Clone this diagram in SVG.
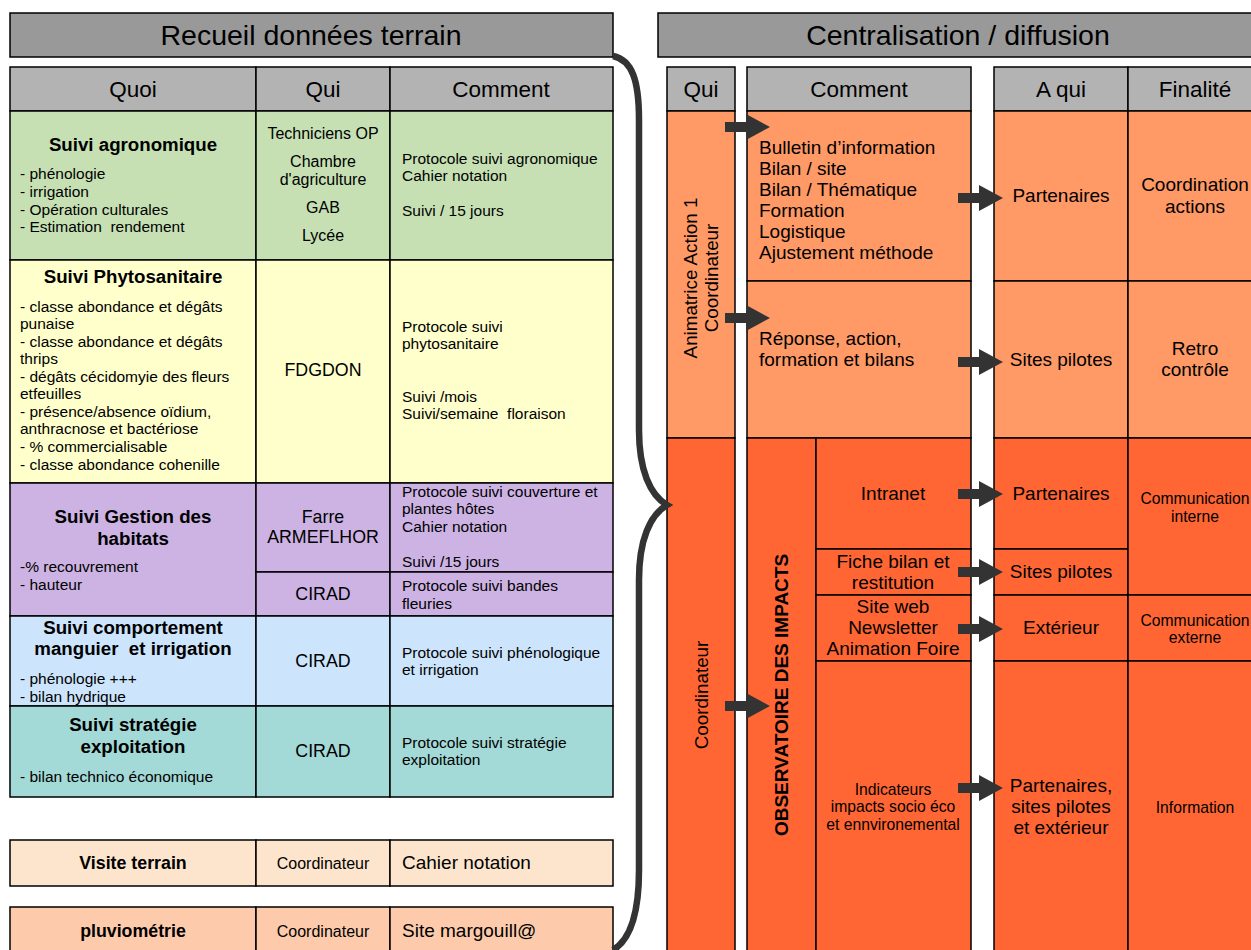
<svg xmlns="http://www.w3.org/2000/svg" xmlns:xlink="http://www.w3.org/1999/xlink" width="1251" height="950" viewBox="0 0 1251 950">
<style>
text{font-family:"Liberation Sans",Arial,sans-serif;fill:#000}
.b{stroke:#000;stroke-width:1.5}
.title{fill:#999999}
.hdr{fill:#b3b3b3}
.t26{font-size:28.5px;text-anchor:middle}
.t20{font-size:22.5px;text-anchor:middle}
.h{font-size:18.7px;font-weight:bold;text-anchor:middle}
.s{font-size:15.5px}
.sc{font-size:15.7px;text-anchor:middle}
.q{font-size:16px;text-anchor:middle}
.m{font-size:17.8px;text-anchor:middle}
.v{font-size:18.8px}
.r{font-size:19px}
.rc{font-size:19px;text-anchor:middle}
.lo{fill:#ff9966}
.do{fill:#ff6633}
</style>
<defs>
<path id="arr" d="M0,-5 H21 V-13 L45,0 L21,13 V5 H0 Z" fill="#333333"/>
</defs>
<rect width="1251" height="950" fill="#ffffff"/>

<g id="left-title">
<rect class="b title" x="10" y="13" width="603" height="44"/>
<text class="t26" x="311" y="45">Recueil données terrain</text>
</g>
<g id="left-header">
<rect class="b hdr" x="10" y="67" width="246" height="44"/>
<rect class="b hdr" x="256" y="67" width="134" height="44"/>
<rect class="b hdr" x="390" y="67" width="223" height="44"/>
<text class="t20" x="133" y="97">Quoi</text>
<text class="t20" x="323" y="97">Qui</text>
<text class="t20" x="501" y="97">Comment</text>
</g>

<g id="row-agronomique">
<rect class="b" fill="#c6e0b4" x="10" y="111" width="246" height="149"/>
<rect class="b" fill="#c6e0b4" x="256" y="111" width="134" height="149"/>
<rect class="b" fill="#c6e0b4" x="390" y="111" width="223" height="149"/>
<text class="h" x="133" y="151">Suivi agronomique</text>
<text class="s" x="20" y="179">- phénologie</text>
<text class="s" x="20" y="197">- irrigation</text>
<text class="s" x="20" y="215">- Opération culturales</text>
<text class="s" x="20" y="232" xml:space="preserve">- Estimation  rendement</text>
<text class="q" x="323" y="139">Techniciens OP</text>
<text class="q" x="323" y="167">Chambre</text>
<text class="q" x="323" y="185">d'agriculture</text>
<text class="q" x="323" y="213">GAB</text>
<text class="q" x="323" y="241">Lycée</text>
<text class="s" x="402" y="164">Protocole suivi agronomique</text>
<text class="s" x="402" y="181">Cahier notation</text>
<text class="s" x="402" y="216">Suivi / 15 jours</text>
</g>

<g id="row-phyto">
<rect class="b" fill="#ffffcc" x="10" y="260" width="246" height="223"/>
<rect class="b" fill="#ffffcc" x="256" y="260" width="134" height="223"/>
<rect class="b" fill="#ffffcc" x="390" y="260" width="223" height="223"/>
<text class="h" x="133" y="283">Suivi Phytosanitaire</text>
<text class="s" x="20" y="312">- classe abondance et dégâts</text>
<text class="s" x="20" y="329">punaise</text>
<text class="s" x="20" y="347">- classe abondance et dégâts</text>
<text class="s" x="20" y="364">thrips</text>
<text class="s" x="20" y="382">- dégâts cécidomyie des fleurs</text>
<text class="s" x="20" y="399">etfeuilles</text>
<text class="s" x="20" y="417">- présence/absence oïdium,</text>
<text class="s" x="20" y="434">anthracnose et bactériose</text>
<text class="s" x="20" y="452">- % commercialisable</text>
<text class="s" x="20" y="470">- classe abondance cohenille</text>
<text class="m" x="323" y="376">FDGDON</text>
<text class="s" x="402" y="332">Protocole suivi</text>
<text class="s" x="402" y="349">phytosanitaire</text>
<text class="s" x="402" y="402">Suivi /mois</text>
<text class="s" x="402" y="419" xml:space="preserve">Suivi/semaine  floraison</text>
</g>

<g id="row-habitats">
<rect class="b" fill="#ccb3e3" x="10" y="483" width="246" height="133"/>
<rect class="b" fill="#ccb3e3" x="256" y="483" width="134" height="89"/>
<rect class="b" fill="#ccb3e3" x="390" y="483" width="223" height="89"/>
<rect class="b" fill="#ccb3e3" x="256" y="572" width="134" height="44"/>
<rect class="b" fill="#ccb3e3" x="390" y="572" width="223" height="44"/>
<text class="h" x="133" y="523">Suivi Gestion des</text>
<text class="h" x="133" y="545">habitats</text>
<text class="s" x="20" y="572">-% recouvrement</text>
<text class="s" x="20" y="590">- hauteur</text>
<text class="m" x="323" y="523">Farre</text>
<text class="m" x="323" y="543">ARMEFLHOR</text>
<text class="m" x="323" y="600">CIRAD</text>
<text class="s" x="402" y="497">Protocole suivi couverture et</text>
<text class="s" x="402" y="514">plantes hôtes</text>
<text class="s" x="402" y="532">Cahier notation</text>
<text class="s" x="402" y="567">Suivi /15 jours</text>
<text class="s" x="402" y="591">Protocole suivi bandes</text>
<text class="s" x="402" y="609">fleuries</text>
</g>

<g id="row-comportement">
<rect class="b" fill="#cce4fc" x="10" y="616" width="246" height="90"/>
<rect class="b" fill="#cce4fc" x="256" y="616" width="134" height="90"/>
<rect class="b" fill="#cce4fc" x="390" y="616" width="223" height="90"/>
<text class="h" x="133" y="634">Suivi comportement</text>
<text class="h" x="133" y="655" xml:space="preserve">manguier  et irrigation</text>
<text class="s" x="20" y="684">- phénologie +++</text>
<text class="s" x="20" y="702">- bilan hydrique</text>
<text class="m" x="323" y="667">CIRAD</text>
<text class="s" x="402" y="658">Protocole suivi phénologique</text>
<text class="s" x="402" y="675">et irrigation</text>
</g>

<g id="row-strategie">
<rect class="b" fill="#a3d9d6" x="10" y="706" width="246" height="91"/>
<rect class="b" fill="#a3d9d6" x="256" y="706" width="134" height="91"/>
<rect class="b" fill="#a3d9d6" x="390" y="706" width="223" height="91"/>
<text class="h" x="133" y="731">Suivi stratégie</text>
<text class="h" x="133" y="753">exploitation</text>
<text class="s" x="20" y="782">- bilan technico économique</text>
<text class="m" x="323" y="757">CIRAD</text>
<text class="s" x="402" y="748">Protocole suivi stratégie</text>
<text class="s" x="402" y="765">exploitation</text>
</g>

<g id="row-visite">
<rect class="b" fill="#fde4cc" x="10" y="840" width="246" height="46"/>
<rect class="b" fill="#fde4cc" x="256" y="840" width="134" height="46"/>
<rect class="b" fill="#fde4cc" x="390" y="840" width="223" height="46"/>
<text class="m" font-size="19" font-weight="bold" x="133" y="869">Visite terrain</text>
<text class="q" font-size="18.5" x="323" y="869">Coordinateur</text>
<text font-size="19" x="402" y="869">Cahier notation</text>
</g>

<g id="row-pluvio">
<rect class="b" fill="#fdcbac" x="10" y="907" width="246" height="50"/>
<rect class="b" fill="#fdcbac" x="256" y="907" width="134" height="50"/>
<rect class="b" fill="#fdcbac" x="390" y="907" width="223" height="50"/>
<text class="m" font-size="19" font-weight="bold" x="133" y="937">pluviométrie</text>
<text class="q" font-size="18.5" x="323" y="937">Coordinateur</text>
<text font-size="19" x="402" y="937">Site margouill@</text>
</g>

<g id="right-title">
<rect class="b title" x="658" y="13" width="610" height="44"/>
<text class="t26" x="958" y="45">Centralisation / diffusion</text>
</g>
<g id="right-header">
<rect class="b hdr" x="667" y="67" width="68" height="44"/>
<rect class="b hdr" x="747" y="67" width="224" height="44"/>
<rect class="b hdr" x="994" y="67" width="134" height="44"/>
<rect class="b hdr" x="1128" y="67" width="140" height="44"/>
<text class="t20" x="701" y="97">Qui</text>
<text class="t20" x="859" y="97">Comment</text>
<text class="t20" x="1061" y="97">A qui</text>
<text class="t20" x="1195" y="97">Finalité</text>
</g>

<g id="qui-animatrice">
<rect class="b lo" x="667" y="111" width="68" height="327"/>
<text class="v" text-anchor="middle" transform="translate(697,278) rotate(-90)">Animatrice Action 1</text>
<text class="v" text-anchor="middle" transform="translate(718,278) rotate(-90)">Coordinateur</text>
</g>
<g id="qui-coordinateur">
<rect class="b do" x="667" y="438" width="68" height="522"/>
<text class="v" text-anchor="middle" transform="translate(708,695) rotate(-90)">Coordinateur</text>
</g>

<g id="comment-bulletin">
<rect class="b lo" x="747" y="111" width="224" height="170"/>
<text class="r" x="759" y="154">Bulletin d’information</text>
<text class="r" x="759" y="175">Bilan / site</text>
<text class="r" x="759" y="196">Bilan / Thématique</text>
<text class="r" x="759" y="217">Formation</text>
<text class="r" x="759" y="238">Logistique</text>
<text class="r" x="759" y="259">Ajustement méthode</text>
</g>
<g id="comment-reponse">
<rect class="b lo" x="747" y="281" width="224" height="157"/>
<text class="r" x="759" y="345">Réponse, action,</text>
<text class="r" x="759" y="366">formation et bilans</text>
</g>
<g id="observatoire">
<rect class="b do" x="747" y="438" width="69" height="522"/>
<text font-size="19" font-weight="bold" text-anchor="middle" transform="translate(788,695) rotate(-90)">OBSERVATOIRE DES IMPACTS</text>
</g>
<g id="comment-intranet">
<rect class="b do" x="816" y="438" width="155" height="111"/>
<text class="rc" x="893" y="500">Intranet</text>
</g>
<g id="comment-fiche">
<rect class="b do" x="816" y="549" width="155" height="46"/>
<text class="rc" x="893" y="568">Fiche bilan et</text>
<text class="rc" x="893" y="589">restitution</text>
</g>
<g id="comment-siteweb">
<rect class="b do" x="816" y="595" width="155" height="66"/>
<text class="rc" x="893" y="613">Site web</text>
<text class="rc" x="893" y="634">Newsletter</text>
<text class="rc" x="893" y="655">Animation Foire</text>
</g>
<g id="comment-indicateurs">
<rect class="b do" x="816" y="661" width="155" height="299"/>
<text class="sc" x="893" y="795">Indicateurs</text>
<text class="sc" x="893" y="812">impacts socio éco</text>
<text class="sc" x="893" y="830">et ennvironemental</text>
</g>

<g id="aqui-partenaires1">
<rect class="b lo" x="994" y="111" width="134" height="170"/>
<text class="rc" x="1061" y="202">Partenaires</text>
</g>
<g id="aqui-sites1">
<rect class="b lo" x="994" y="281" width="134" height="157"/>
<text class="rc" x="1061" y="366">Sites pilotes</text>
</g>
<g id="aqui-partenaires2">
<rect class="b do" x="994" y="438" width="134" height="111"/>
<text class="rc" x="1061" y="500">Partenaires</text>
</g>
<g id="aqui-sites2">
<rect class="b do" x="994" y="549" width="134" height="46"/>
<text class="rc" x="1061" y="578">Sites pilotes</text>
</g>
<g id="aqui-exterieur">
<rect class="b do" x="994" y="595" width="134" height="66"/>
<text class="rc" x="1061" y="634">Extérieur</text>
</g>
<g id="aqui-tous">
<rect class="b do" x="994" y="661" width="134" height="299"/>
<text class="rc" x="1061" y="792">Partenaires,</text>
<text class="rc" x="1061" y="813">sites pilotes</text>
<text class="rc" x="1061" y="834">et extérieur</text>
</g>

<g id="fin-coordination">
<rect class="b lo" x="1128" y="111" width="140" height="170"/>
<text class="rc" x="1195" y="191">Coordination</text>
<text class="rc" x="1195" y="213">actions</text>
</g>
<g id="fin-retro">
<rect class="b lo" x="1128" y="281" width="140" height="157"/>
<text class="rc" x="1195" y="355">Retro</text>
<text class="rc" x="1195" y="376">contrôle</text>
</g>
<g id="fin-interne">
<rect class="b do" x="1128" y="438" width="140" height="157"/>
<text class="sc" x="1195" y="504">Communication</text>
<text class="sc" x="1195" y="522">interne</text>
</g>
<g id="fin-externe">
<rect class="b do" x="1128" y="595" width="140" height="66"/>
<text class="sc" x="1195" y="626">Communication</text>
<text class="sc" x="1195" y="643">externe</text>
</g>
<g id="fin-information">
<rect class="b do" x="1128" y="661" width="140" height="299"/>
<text class="sc" x="1195" y="813">Information</text>
</g>

<g id="connectors">
<path d="M613,56 C632,60 639,80 639,120 L639,430 C639,470 650,495 667,505 C650,515 639,540 639,580 L639,870 C639,915 630,940 613,950" fill="none" stroke="#333333" stroke-width="6.5"/>
<use xlink:href="#arr" x="725" y="127"/>
<use xlink:href="#arr" x="725" y="318"/>
<use xlink:href="#arr" x="725" y="706"/>
<use xlink:href="#arr" x="958" y="198"/>
<use xlink:href="#arr" x="958" y="362"/>
<use xlink:href="#arr" x="958" y="494"/>
<use xlink:href="#arr" x="958" y="572"/>
<use xlink:href="#arr" x="958" y="629"/>
<use xlink:href="#arr" x="958" y="788"/>
</g>
</svg>
